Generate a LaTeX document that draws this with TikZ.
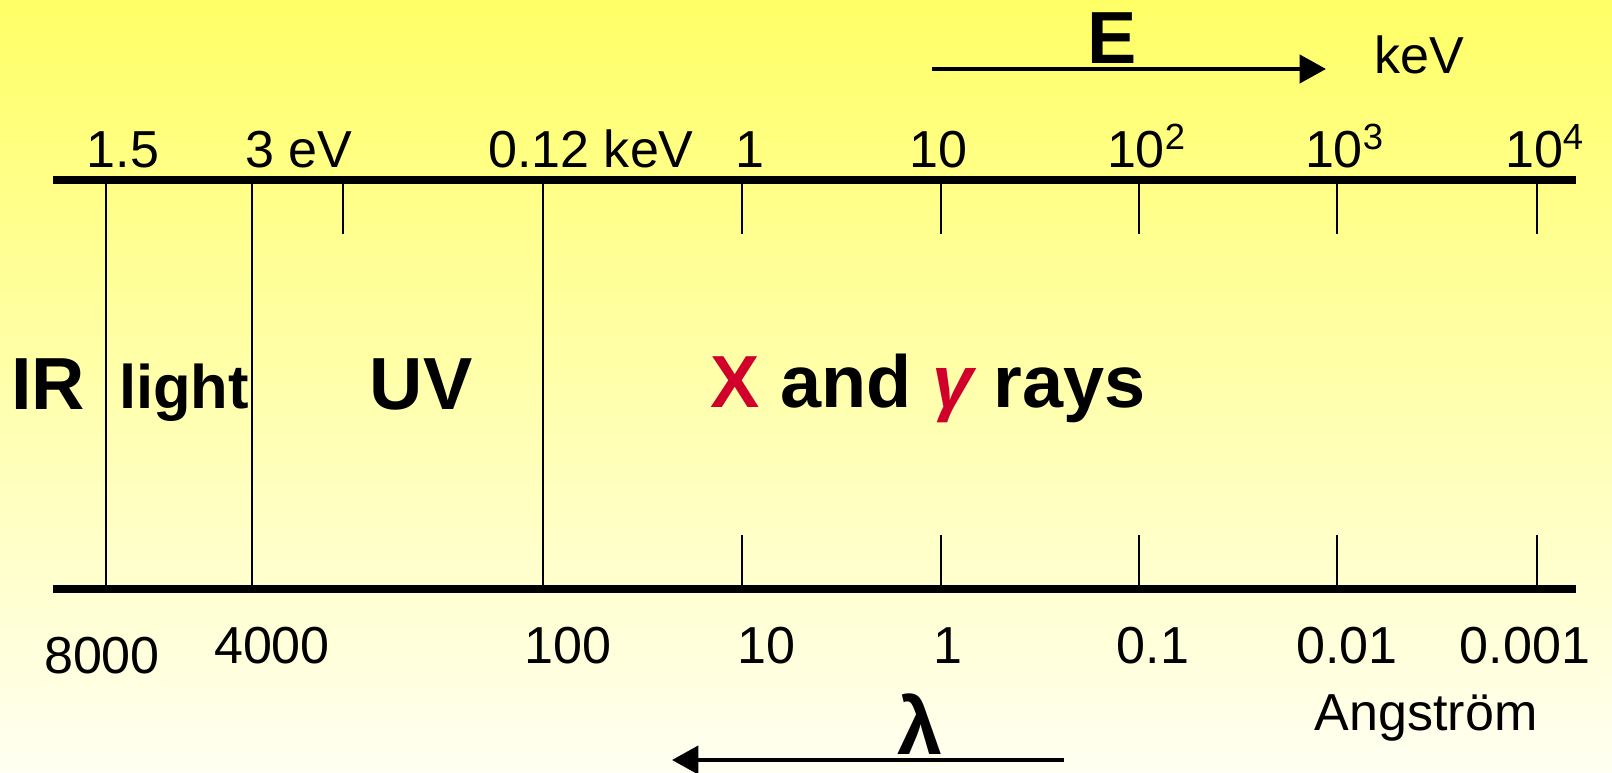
\documentclass[tikz,border=0pt]{standalone}
\usepackage{fontspec}
\setmainfont{Liberation Sans}
\usetikzlibrary{arrows.meta,positioning}
\definecolor{sunTop}{HTML}{FFFF66}
\definecolor{sunLow}{HTML}{FFFFF2}
\definecolor{xred}  {HTML}{D0002A}
\tikzset{
  axisline/.style={line width=2.3pt, line cap=butt},
  tickline/.style={line width=0.6pt},
  scalelbl/.style={font=\fontsize{14.8}{16}\selectfont, anchor=base, inner sep=0pt},
  bandlbl/.style={font=\fontsize{21}{24}\selectfont\bfseries, anchor=base, inner sep=0pt},
  dirarrow/.style={line width=1.1pt, -{Triangle[length=7.5pt,width=8pt]}}
}

\begin{document}
\begin{tikzpicture}[x=0.01cm, y=-0.01cm]
  \shade[top color=sunTop, bottom color=sunLow] (0,0) rectangle (1612,773);
  \useasboundingbox (0,0) rectangle (1612,773);
  % energy axis (top) and wavelength axis (bottom)
  \coordinate (topL) at (53,180);  \coordinate (topR) at (1576,180);
  \coordinate (botL) at (53,589);  \coordinate (botR) at (1576,589);
  \draw[axisline] (topL) -- (topR);
  \draw[axisline] (botL) -- (botR);
  \foreach \x in {106,252,543}{ \draw[tickline] (\x,180) -- (\x,589); }
  \foreach \x in {343,742,941,1139,1337,1537}{ \draw[tickline] (\x,180) -- (\x,234); }
  \foreach \x in {742,941,1139,1337,1537}{ \draw[tickline] (\x,535) -- (\x,589); }
  \foreach \x/\t [count=\i] in {123/1.5, 299/3 eV, 591/0.12 keV, 750/1, 938/10,
      1147/10\textsuperscript{2}, 1345/10\textsuperscript{3}, 1545/10\textsuperscript{4}}{
    \node[scalelbl] (eTick\i) at (\x,168) {\t};
  }
  \foreach \x/\y/\t [count=\i] in {102/673/8000, 272/663/4000, 568/663/100, 766/663/10,
      948/663/1, 1153/663/0.1, 1347/663/0.01, 1525/663/0.001}{
    \node[scalelbl] (wTick\i) at (\x,\y) {\t};
  }
  \node[scalelbl] (keVUnit) at (1419,74) {keV};
  \node[scalelbl] (angUnit) at (1426,730) {Angström};
  % bands
  \node[bandlbl] (irBand) at (48,409) {IR};
  \node[bandlbl, font=\fontsize{17.5}{20}\selectfont\bfseries] (lightBand) at (184,408) {light};
  \node[bandlbl] (uvBand) at (421,409) {UV};
  \node[bandlbl] (xgBand) at (928,407) {{\color{xred}X} and {\color{xred}\itshape γ} rays};
  % direction arrows
  \node[bandlbl] (eSym) at (1112,64) {E};
  \coordinate (eFrom) at (932,69);  \coordinate (eTo) at (1326,69);
  \draw[dirarrow] (eFrom) -- (eTo);
  \node[bandlbl, font=\fontsize{23}{26}\selectfont\bfseries] (lamSym) at (920,754) {λ};
  \coordinate (lamFrom) at (1064,760);  \coordinate (lamTo) at (672,760);
  \draw[dirarrow] (lamFrom) -- (lamTo);
\end{tikzpicture}
\end{document}
